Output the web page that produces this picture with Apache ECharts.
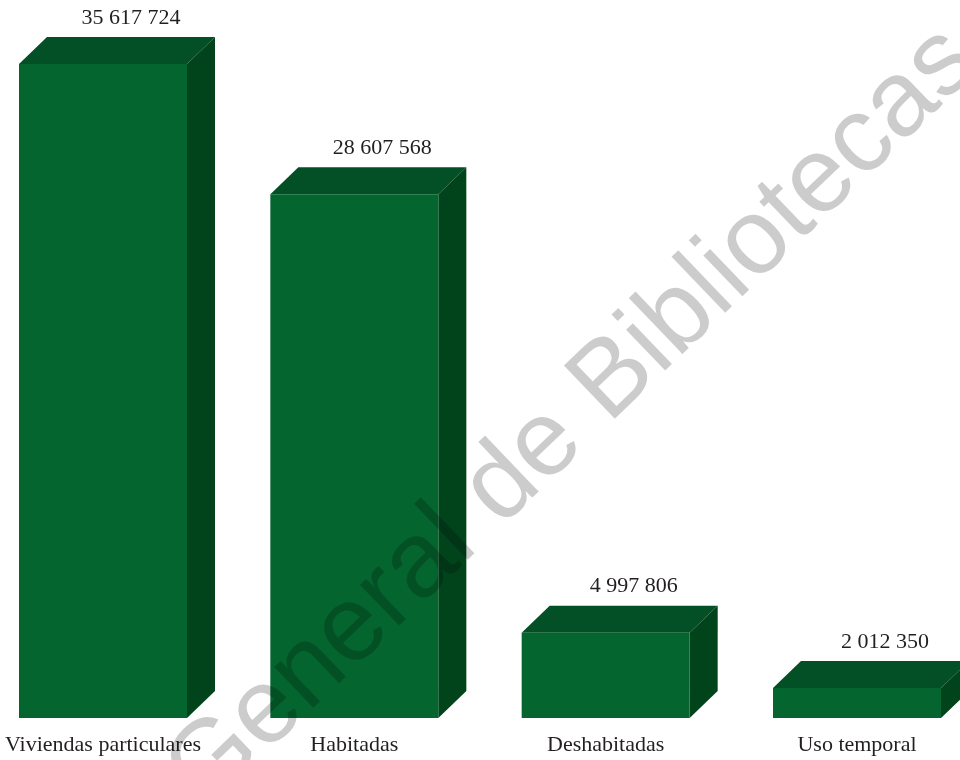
<!DOCTYPE html>
<html>
<head>
<meta charset="utf-8">
<style>
  html, body { margin: 0; padding: 0; background: #ffffff; }
  #chart { width: 960px; height: 760px; }
</style>
<script src="https://cdn.jsdelivr.net/npm/echarts@6/dist/echarts.min.js"></script>
</head>
<body>
<div id="chart"></div>
<script>
// Viviendas particulares por condición de uso
const categories = ['Viviendas particulares', 'Habitadas', 'Deshabitadas', 'Uso temporal'];
const viviendas = [35617724, 28607568, 4997806, 2012350];

const AXIS_MIN = 400000;
const AXIS_MAX = 36000000;

const HALF_W = 84;   // half width of the front face
const DEPTH_X = 28;  // oblique depth offset
const DEPTH_Y = 27;

const FRONT = '#04652f';
const TOP = '#035026';
const SIDE = '#01431b';

function fmtMiles(v) {
  return String(v).replace(/\B(?=(\d{3})+(?!\d))/g, ' ');
}

function renderBox(params, api) {
  const idx = api.value(0);
  const val = api.value(1);
  const top = api.coord([idx, val]);
  const base = api.coord([idx, AXIS_MIN]);
  const cx = top[0];
  const yT = top[1];
  const yB = base[1];
  const xl = cx - HALF_W;
  const xr = cx + HALF_W;
  return {
    type: 'group',
    children: [
      {
        type: 'polygon',
        shape: { points: [[xl, yT], [xl + DEPTH_X, yT - DEPTH_Y], [xr + DEPTH_X, yT - DEPTH_Y], [xr, yT]] },
        style: { fill: TOP }
      },
      {
        type: 'polygon',
        shape: { points: [[xr, yT], [xr + DEPTH_X, yT - DEPTH_Y], [xr + DEPTH_X, yB - DEPTH_Y], [xr, yB]] },
        style: { fill: SIDE }
      },
      {
        type: 'rect',
        shape: { x: xl, y: yT, width: xr - xl, height: yB - yT },
        style: { fill: FRONT }
      },
      {
        type: 'text',
        x: cx + DEPTH_X,
        y: yT - DEPTH_Y - 19,
        style: {
          text: fmtMiles(val),
          fill: '#231f20',
          font: '22px "Liberation Serif", "DejaVu Serif", serif',
          align: 'center',
          verticalAlign: 'middle'
        }
      }
    ]
  };
}

const chart = echarts.init(document.getElementById('chart'), null, { renderer: 'canvas' });

chart.setOption({
  backgroundColor: '#ffffff',
  animation: false,
  grid: { left: 103, right: 103, top: 57, bottom: 42, containLabel: false },
  xAxis: {
    type: 'category',
    data: categories,
    boundaryGap: false,
    axisLine: { show: false },
    axisTick: { show: false },
    splitLine: { show: false },
    axisLabel: {
      margin: 16,
      fontSize: 22,
      fontFamily: '"Liberation Serif", "DejaVu Serif", serif',
      color: '#231f20',
      interval: 0
    }
  },
  yAxis: {
    type: 'value',
    min: AXIS_MIN,
    max: AXIS_MAX,
    show: false,
    splitLine: { show: false }
  },
  series: [{
    type: 'custom',
    renderItem: renderBox,
    data: viviendas.map((v, i) => [i, v]),
    clip: false,
    z: 2
  }],
  graphic: [{
    type: 'text',
    x: 573,
    y: 418,
    rotation: 43.8 * Math.PI / 180,
    z: 100,
    silent: true,
    style: {
      text: 'General de Bibliotecas',
      fill: 'rgba(0,0,0,0.2)',
      font: '107px "Liberation Sans", Arial, sans-serif',
      align: 'center',
      verticalAlign: 'middle'
    }
  }]
});
</script>
</body>
</html>
